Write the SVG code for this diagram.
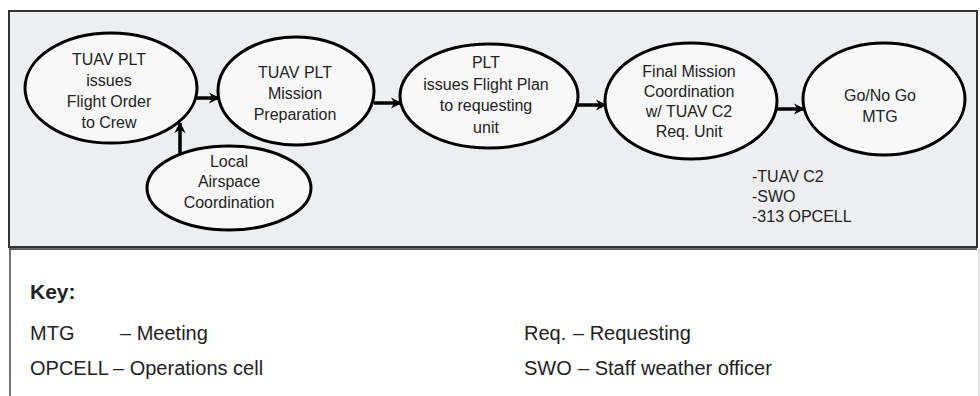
<svg xmlns="http://www.w3.org/2000/svg" width="980" height="396" viewBox="0 0 980 396">
<style>
.panel{fill:#eceef0;stroke:#333;stroke-width:2}
.node ellipse{fill:#f8f8f8;stroke:#000;stroke-width:3}
.t{font-family:"Liberation Sans",Arial,sans-serif;font-size:16px;fill:#222;text-anchor:middle}
.s{font-family:"Liberation Sans",Arial,sans-serif;font-size:16px;fill:#222}
.k{font-family:"Liberation Sans",Arial,sans-serif;font-size:20px;fill:#222}
.kb{font-family:"Liberation Sans",Arial,sans-serif;font-size:21px;font-weight:bold;fill:#222}
.edge{stroke:#000;stroke-width:3.5;fill:none;marker-end:url(#ah)}
</style>
<defs>
<marker id="ah" viewBox="0 0 10 10" refX="9" refY="5" markerWidth="3.2" markerHeight="3.6" orient="auto" markerUnits="strokeWidth">
<path d="M0,0 L10,5 L0,10 L3,5 z" fill="#000"/>
</marker>
</defs>
<rect x="0" y="0" width="980" height="396" fill="#fff"/>
<rect class="panel" x="9" y="11" width="968" height="236"/>
<line x1="9" y1="249" x2="977" y2="249" stroke="#333" stroke-width="1.5"/>
<line x1="10" y1="249" x2="10" y2="396" stroke="#444" stroke-width="1.5"/>
<line x1="979" y1="249" x2="979" y2="396" stroke="#ddd" stroke-width="1.5"/>
<g id="connectors">
<line class="edge" x1="196" y1="98" x2="219" y2="98"/>
<line class="edge" x1="374" y1="103" x2="401" y2="103"/>
<line class="edge" x1="577" y1="105" x2="606" y2="105"/>
<line class="edge" x1="776" y1="109" x2="804" y2="109"/>
<line class="edge" x1="180" y1="154" x2="180" y2="123"/>
</g>
<g id="n1" class="node">
<ellipse cx="111" cy="88" rx="86" ry="55"/>
<text class="t" x="109" y="65">TUAV PLT</text>
<text class="t" x="109" y="86">issues</text>
<text class="t" x="109" y="107">Flight Order</text>
<text class="t" x="109" y="128">to Crew</text>
</g>
<g id="n2" class="node">
<ellipse cx="296" cy="91" rx="78" ry="54"/>
<text class="t" x="295" y="78">TUAV PLT</text>
<text class="t" x="295" y="99">Mission</text>
<text class="t" x="295" y="120">Preparation</text>
</g>
<g id="n3" class="node">
<ellipse cx="489" cy="96" rx="89" ry="52"/>
<text class="t" x="486" y="68">PLT</text>
<text class="t" x="486" y="90">issues Flight Plan</text>
<text class="t" x="486" y="111">to requesting</text>
<text class="t" x="486" y="133">unit</text>
</g>
<g id="n4" class="node">
<ellipse cx="691" cy="101" rx="86" ry="58"/>
<text class="t" x="689" y="77">Final Mission</text>
<text class="t" x="689" y="97">Coordination</text>
<text class="t" x="689" y="117">w/ TUAV C2</text>
<text class="t" x="689" y="137">Req. Unit</text>
</g>
<g id="n5" class="node">
<ellipse cx="884" cy="99" rx="81" ry="56"/>
<text class="t" x="880" y="101">Go/No Go</text>
<text class="t" x="880" y="122">MTG</text>
</g>
<g id="n6" class="node">
<ellipse cx="229" cy="188" rx="82" ry="42"/>
<text class="t" x="229" y="167">Local</text>
<text class="t" x="229" y="187">Airspace</text>
<text class="t" x="229" y="208">Coordination</text>
</g>
<g id="attendees">
<text class="s" x="752" y="182">-TUAV C2</text>
<text class="s" x="752" y="202">-SWO</text>
<text class="s" x="752" y="222">-313 OPCELL</text>
</g>
<g id="key">
<text class="kb" x="30" y="299">Key:</text>
<text class="k" x="30" y="340">MTG</text>
<text class="k" x="120" y="340">– Meeting</text>
<text class="k" x="30" y="375">OPCELL</text>
<text class="k" x="113" y="375">– Operations cell</text>
<text class="k" x="524" y="340">Req.</text>
<text class="k" x="573" y="340">– Requesting</text>
<text class="k" x="524" y="375">SWO</text>
<text class="k" x="578" y="375">– Staff weather officer</text>
</g>
</svg>
